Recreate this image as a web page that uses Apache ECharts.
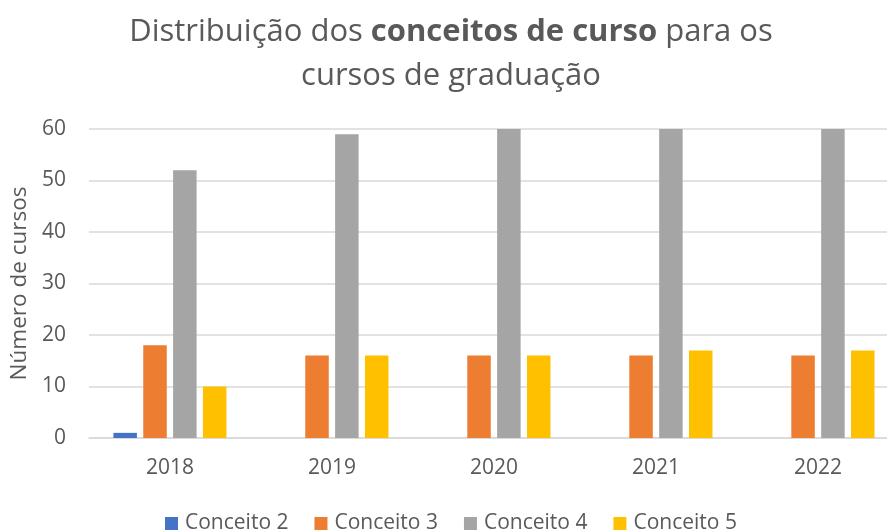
<!DOCTYPE html>
<html>
<head>
<meta charset="utf-8">
<script src="https://cdn.jsdelivr.net/npm/echarts@6/dist/echarts.min.js"></script>
<style>
    html, body {margin: 0; padding: 0; background: #fff; overflow: hidden;}
    #chart {width: 899px; height: 532px;}
</style>
</head>
<body>
<div id="chart"></div>
<script>
// anos
var anos = ['2018', '2019', '2020', '2021', '2022'];
// conceitos
var conceito2 = [1, 0, 0, 0, 0];
var conceito3 = [18, 16, 16, 16, 16];
var conceito4 = [52, 59, 60, 60, 60];
var conceito5 = [10, 16, 16, 17, 17];
var nomes = ['Conceito 2', 'Conceito 3', 'Conceito 4', 'Conceito 5'];
var cores = ['#4472C4', '#ED7D31', '#A5A5A5', '#FFC000'];

var fonte = '"Open Sans", sans-serif';
var cinza = '#595959';

function serie(nome, dados, cor) {
    return {
        name: nome,
        type: 'bar',
        data: dados,
        barWidth: 23.5,
        barGap: '27%',
        itemStyle: {color: cor},
        animation: false
    };
}

var myChart = echarts.init(document.getElementById('chart'));
myChart.setOption({
    title: {
        text: '{n|Distribuição dos }{b|conceitos de curso}{n| para os}\n{n|cursos de graduação}',
        left: 446,
        textAlign: 'center',
        top: 5,
        textStyle: {
            fontWeight: 'normal',
            rich: {
                n: {fontFamily: fonte, fontSize: 31, color: cinza, fontWeight: 'normal', lineHeight: 44},
                b: {fontFamily: fonte, fontSize: 31, color: cinza, fontWeight: 'bold', lineHeight: 44}
            }
        }
    },
    legend: {
        data: nomes,
        top: 508,
        left: 160,
        itemWidth: 13,
        itemHeight: 13,
        itemGap: 26,
        icon: 'rect',
        textStyle: {fontFamily: fonte, fontSize: 21, color: cinza, padding: [0, 0, 0, 2]}
    },
    grid: {
        left: 88,
        top: 129,
        right: 0,
        height: 309
    },
    xAxis: {
        type: 'category',
        data: anos,
        axisTick: {show: false},
        axisLine: {lineStyle: {color: '#d9d9d9', width: 1.5}},
        axisLabel: {fontFamily: fonte, fontSize: 21, color: cinza, margin: 20}
    },
    yAxis: {
        type: 'value',
        min: 0,
        max: 60,
        interval: 10,
        name: 'Número de cursos',
        nameLocation: 'middle',
        nameGap: 52,
        nameTextStyle: {fontFamily: fonte, fontSize: 22.5, color: cinza},
        axisLabel: {fontFamily: fonte, fontSize: 21, color: cinza, margin: 23},
        splitLine: {lineStyle: {color: '#d9d9d9', width: 1.5}}
    },
    series: [
        serie(nomes[0], conceito2, cores[0]),
        serie(nomes[1], conceito3, cores[1]),
        serie(nomes[2], conceito4, cores[2]),
        serie(nomes[3], conceito5, cores[3])
    ]
});
</script>
</body>
</html>
